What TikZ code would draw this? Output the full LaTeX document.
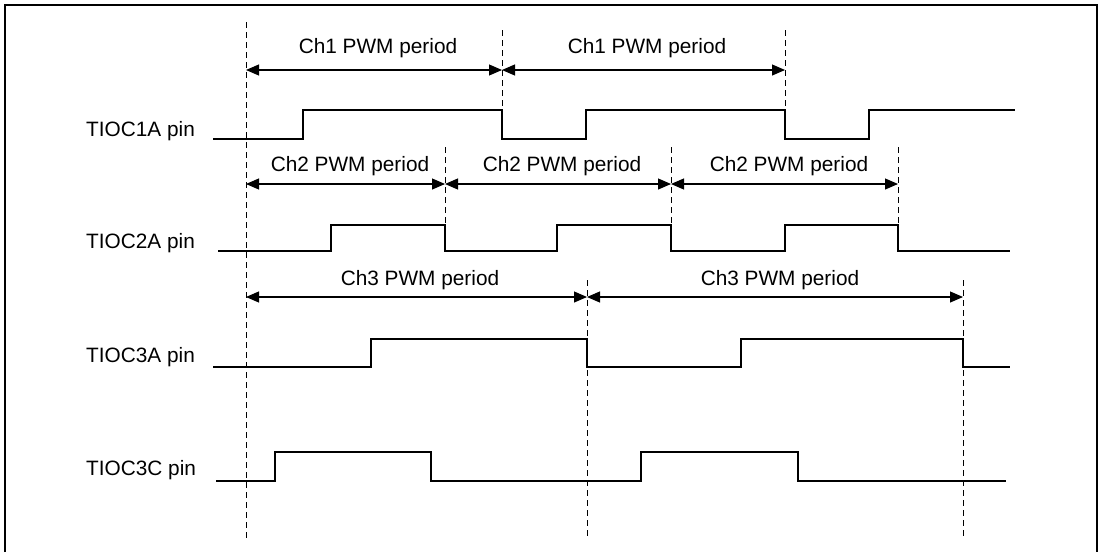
\documentclass[tikz,border=0pt]{standalone}
\usepackage{fontspec}
\setmainfont{Liberation Sans}
\usetikzlibrary{arrows.meta}
\begin{document}
\begin{tikzpicture}[x=1pt,y=-1pt,
  frame/.style={line width=2.6pt},
  sig/.style={line width=2.4pt, line join=miter},
  guide/.style={line width=1pt, dash pattern=on 6pt off 4pt},
  span/.style={line width=1.1pt,
    {Triangle[length=13pt,width=11pt]}-{Triangle[length=13pt,width=11pt]}},
  txt/.style={font=\fontsize{20.8}{24}\selectfont, inner sep=0pt, anchor=base},
  pin/.style={txt, anchor=base west}]
\useasboundingbox (0,0) rectangle (1101,552);

% open frame (no bottom edge)
\draw[frame] (5,552) -- (5,5) -- (1097,5) -- (1097,552);

% period boundaries
\coordinate (s0) at (246,0);
\coordinate (a1) at (502,0);  \coordinate (a2) at (785,0);
\coordinate (b1) at (445,0);  \coordinate (b2) at (671,0);  \coordinate (b3) at (898,0);
\coordinate (c1) at (587,0);  \coordinate (c2) at (963,0);

% dashed guide lines
\draw[guide] (s0 |- 0,22)  -- (s0 |- 0,538);
\draw[guide] (a1 |- 0,30)  -- (a1 |- 0,110);
\draw[guide] (a2 |- 0,30)  -- (a2 |- 0,110);
\draw[guide] (b1 |- 0,147) -- (b1 |- 0,225);
\draw[guide] (b2 |- 0,147) -- (b2 |- 0,225);
\draw[guide] (b3 |- 0,147) -- (b3 |- 0,225);
\draw[guide] (c1 |- 0,280) -- (c1 |- 0,538);
\draw[guide] (c2 |- 0,280) -- (c2 |- 0,538);

% channel 1 periods
\coordinate (p1s) at (s0 |- 0,70);
\coordinate (p1a) at (a1 |- 0,70);
\coordinate (p1b) at (a2 |- 0,70);
\draw[span] (p1s) -- (p1a);
\draw[span] (p1a) -- (p1b);
\node[txt] (t11) at (378,53) {Ch1 PWM period};
\node[txt] (t12) at (647,53) {Ch1 PWM period};

% channel 2 periods
\coordinate (p2s) at (s0 |- 0,184);
\coordinate (p2a) at (b1 |- 0,184);
\coordinate (p2b) at (b2 |- 0,184);
\coordinate (p2c) at (b3 |- 0,184);
\draw[span] (p2s) -- (p2a);
\draw[span] (p2a) -- (p2b);
\draw[span] (p2b) -- (p2c);
\node[txt] (t21) at (350,171) {Ch2 PWM period};
\node[txt] (t22) at (562,171) {Ch2 PWM period};
\node[txt] (t23) at (789,171) {Ch2 PWM period};

% channel 3 periods
\coordinate (p3s) at (s0 |- 0,297);
\coordinate (p3a) at (c1 |- 0,297);
\coordinate (p3b) at (c2 |- 0,297);
\draw[span] (p3s) -- (p3a);
\draw[span] (p3a) -- (p3b);
\node[txt] (t31) at (420,285) {Ch3 PWM period};
\node[txt] (t32) at (780,285) {Ch3 PWM period};

% pin labels
\node[pin] (n1) at (86,136) {TIOC1A pin};
\node[pin] (n2) at (86,248) {TIOC2A pin};
\node[pin] (n3) at (86,362) {TIOC3A pin};
\node[pin] (n4) at (86,475) {TIOC3C pin};

% waveforms
\draw[sig] (213,139) -- (303,139) -- (303,110) -- (502,110) -- (502,139)
  -- (586,139) -- (586,110) -- (785,110) -- (785,139) -- (869,139)
  -- (869,110) -- (1015,110);
\draw[sig] (218,251) -- (331,251) -- (331,225) -- (445,225) -- (445,251)
  -- (557,251) -- (557,225) -- (671,225) -- (671,251) -- (785,251)
  -- (785,225) -- (898,225) -- (898,251) -- (1010,251);
\draw[sig] (213,367) -- (371,367) -- (371,339) -- (587,339) -- (587,367)
  -- (741,367) -- (741,339) -- (963,339) -- (963,367) -- (1010,367);
\draw[sig] (216,481) -- (275,481) -- (275,452) -- (431,452) -- (431,481)
  -- (641,481) -- (641,452) -- (798,452) -- (798,481) -- (1006,481);
\end{tikzpicture}
\end{document}
